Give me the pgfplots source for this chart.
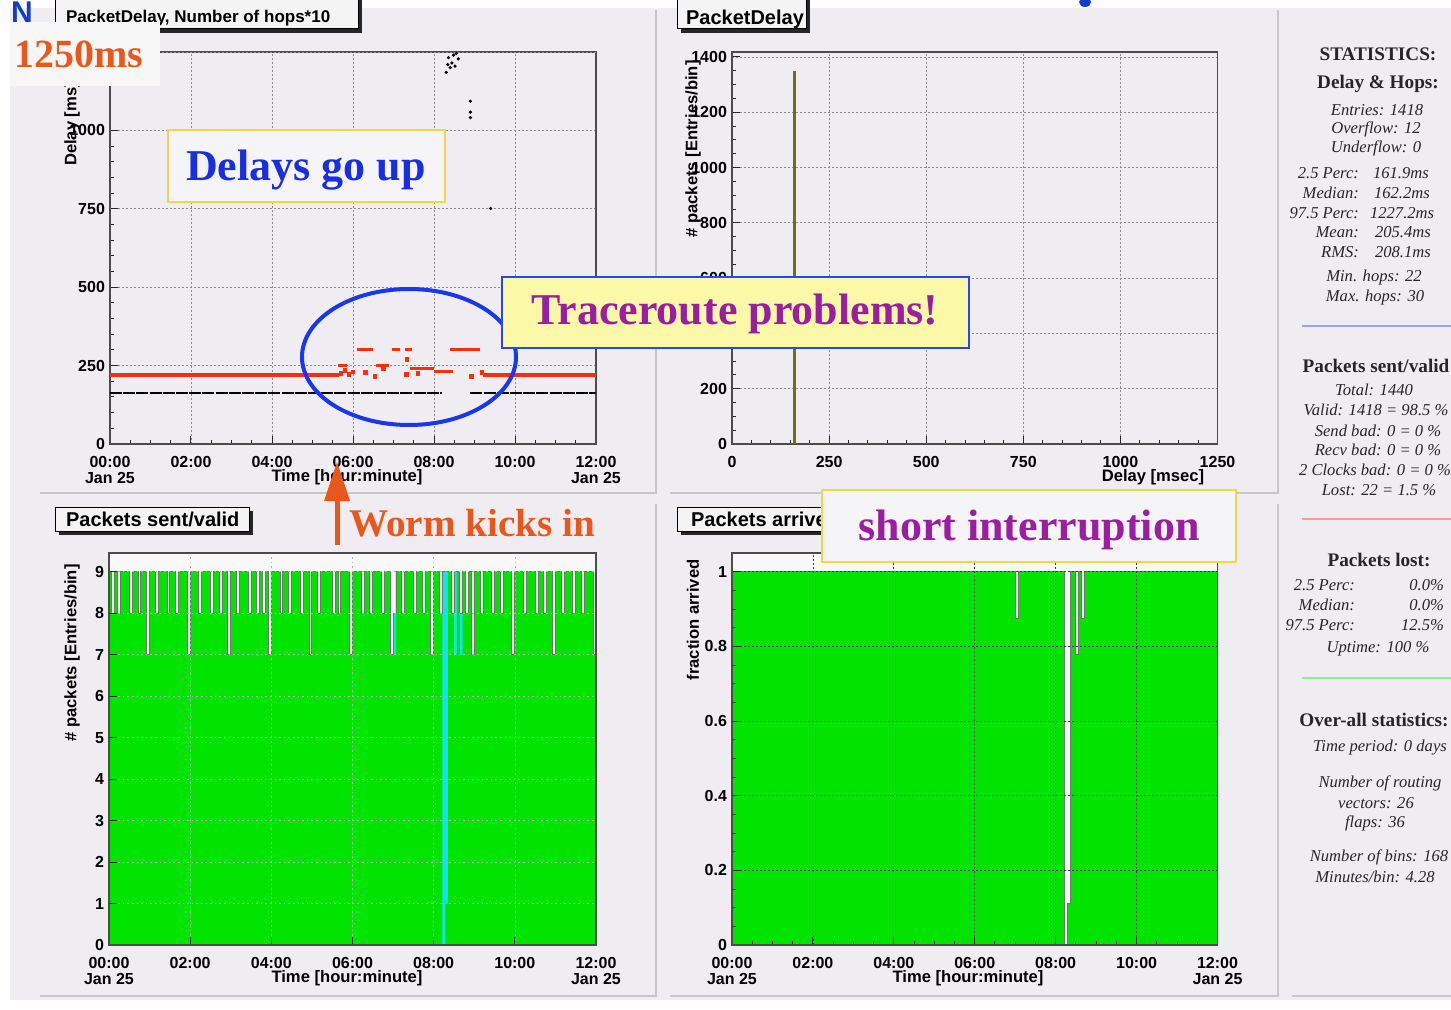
\documentclass[border=0pt]{standalone}
\usepackage{fontspec}
\setmainfont{Liberation Serif}
\setsansfont{Liberation Sans}
\usepackage{pgfplots}
\pgfplotsset{compat=1.18}
\usepackage{pgfplotstable}

\definecolor{panelbg}{RGB}{239,237,241}
\definecolor{plotw}{RGB}{248,248,248}
\definecolor{greenH}{RGB}{0,228,0}
\definecolor{cyanH}{RGB}{20,225,240}
\definecolor{redL}{RGB}{255,45,10}
\definecolor{oliveB}{RGB}{115,110,25}
\definecolor{blueE}{RGB}{25,55,235}
\definecolor{blueD}{RGB}{25,45,225}
\definecolor{purpleT}{RGB}{155,30,160}
\definecolor{orangeW}{RGB}{232,88,28}
\definecolor{yellowbg}{RGB}{251,249,168}
\definecolor{goldc}{RGB}{245,212,70}
\definecolor{blueB}{RGB}{40,70,245}
\definecolor{boxbg}{RGB}{245,244,247}
\definecolor{titlebg}{RGB}{244,244,244}
\definecolor{statblue}{RGB}{155,160,240}
\definecolor{statred}{RGB}{245,155,155}
\definecolor{statgreen}{RGB}{150,235,150}
\definecolor{blueN}{RGB}{20,60,200}

\newcommand\tickfont{\sffamily\bfseries\fontsize{8}{8}\selectfont}
\newcommand\labfont{\sffamily\bfseries\fontsize{8.3}{8.3}\selectfont}
\newcommand\annfont{\rmfamily\bfseries\fontsize{22}{22}\selectfont}
\newcommand\sth{\rmfamily\bfseries\fontsize{9.6}{10}\selectfont}
\newcommand\sti{\rmfamily\itshape\fontsize{8.3}{9}\selectfont}

% Packets sent / valid per bin (168 bins of 4.28 min over 12 h)
\pgfplotstableread[row sep=\\]{
bin sent valid\\
0 9 9\\ 1 8 8\\ 2 9 9\\ 3 8 8\\ 4 9 9\\ 5 9 9\\ 6 9 9\\ 7 8 8\\ 8 9 9\\ 9 9 9\\ 10 8 8\\ 11 9 9\\ 12 9 9\\ 13 7 7\\
14 9 9\\ 15 9 9\\ 16 8 8\\ 17 9 9\\ 18 9 9\\ 19 9 9\\ 20 8 8\\ 21 9 9\\ 22 9 9\\ 23 8 8\\ 24 9 9\\ 25 9 9\\ 26 9 9\\ 27 7 7\\
28 9 9\\ 29 9 9\\ 30 9 9\\ 31 8 8\\ 32 9 9\\ 33 9 9\\ 34 9 9\\ 35 8 8\\ 36 9 9\\ 37 9 9\\ 38 8 8\\ 39 9 9\\ 40 9 9\\ 41 7 7\\
42 9 9\\ 43 9 9\\ 44 8 8\\ 45 9 9\\ 46 9 9\\ 47 9 9\\ 48 8 8\\ 49 9 9\\ 50 9 9\\ 51 8 8\\ 52 9 9\\ 53 8 8\\ 54 9 9\\ 55 7 7\\
56 9 9\\ 57 9 9\\ 58 9 9\\ 59 8 8\\ 60 9 9\\ 61 9 9\\ 62 8 8\\ 63 9 9\\ 64 9 9\\ 65 9 9\\ 66 8 8\\ 67 9 9\\ 68 9 9\\ 69 7 7\\
70 9 9\\ 71 9 9\\ 72 8 8\\ 73 9 9\\ 74 9 9\\ 75 9 9\\ 76 9 9\\ 77 8 8\\ 78 9 9\\ 79 8 8\\ 80 9 9\\ 81 9 9\\ 82 9 9\\ 83 7 7\\
84 9 9\\ 85 9 9\\ 86 9 9\\ 87 8 8\\ 88 9 9\\ 89 9 9\\ 90 8 8\\ 91 9 9\\ 92 9 9\\ 93 9 9\\ 94 8 8\\ 95 9 9\\ 96 9 9\\ 97 7 7\\
98 8 7\\ 99 9 9\\ 100 9 9\\ 101 8 8\\ 102 9 9\\ 103 9 9\\ 104 9 9\\ 105 8 8\\ 106 9 9\\ 107 9 9\\ 108 8 8\\ 109 9 9\\ 110 9 9\\ 111 7 7\\
112 9 9\\ 113 9 9\\ 114 8 8\\ 115 9 0\\ 116 9 1\\ 117 9 9\\ 118 8 8\\ 119 9 7\\ 120 9 9\\ 121 8 7\\ 122 9 9\\ 123 8 8\\ 124 9 9\\ 125 7 7\\
126 9 9\\ 127 9 9\\ 128 8 8\\ 129 9 9\\ 130 9 9\\ 131 9 9\\ 132 8 8\\ 133 9 9\\ 134 9 9\\ 135 8 8\\ 136 9 9\\ 137 9 9\\ 138 9 9\\ 139 7 7\\
140 9 9\\ 141 9 9\\ 142 9 9\\ 143 8 8\\ 144 9 9\\ 145 9 9\\ 146 9 9\\ 147 8 8\\ 148 9 9\\ 149 9 9\\ 150 8 8\\ 151 9 9\\ 152 9 9\\ 153 7 7\\
154 9 9\\ 155 9 9\\ 156 8 8\\ 157 9 9\\ 158 9 9\\ 159 9 9\\ 160 8 8\\ 161 9 9\\ 162 9 9\\ 163 8 8\\ 164 9 9\\ 165 9 9\\ 166 9 9\\ 167 7 7\\
168 7 7\\
}\histo

\pgfplotsset{
  rootax/.style={
    scale only axis, anchor=south west,
    tick pos=left, tick align=inside,
    major tick length=4pt, minor tick length=2.2pt,
    grid=major,
    grid style={black!45, dash pattern=on 0.8pt off 1.2pt, line width=0.4pt},
    axis line style={black!70, line width=0.8pt},
    every tick/.style={black!85, line width=0.5pt},
    tick label style={font=\tickfont},
    xticklabel style={align=center, yshift=-2.6pt},
    yticklabel style={xshift=1pt},
    /pgf/number format/assume math mode=true,
    /pgf/number format/1000 sep={},
    scaled ticks=false,
  },
  timeax/.style={
    xtick={0,28,56,84,112,140,168},
    xticklabels={{00:00\\Jan 25},02:00,04:00,06:00,08:00,10:00,{12:00\\Jan 25}},
    xmin=0, xmax=168,
  }
}

\begin{document}
\begin{tikzpicture}
\useasboundingbox (0pt,0pt) rectangle (725.5pt,-505pt);
\clip (0pt,0pt) rectangle (725.5pt,-505pt);
\begin{scope}[x=0.5pt,y=-0.5pt]
  \fill[white] (0,0) rectangle (1451,1010);
  \fill[panelbg] (10,8) rectangle (1451,1000);
  \draw[black!22, line width=1pt] (40,493) -- (656,493) -- (656,10);
  \draw[black!22, line width=1pt] (670,493) -- (1278,493) -- (1278,10);
  \draw[black!22, line width=1pt] (40,996) -- (656,996) -- (656,504);
  \draw[black!22, line width=1pt] (670,996) -- (1278,996) -- (1278,504);
  \draw[black!22, line width=1pt] (1292,996) -- (1451,996);
\end{scope}

% ---------------- top left: delay and hops*10 vs time
\begin{axis}[rootax, at={(55pt,-222pt)}, width=243pt, height=196pt,
  xmin=0, xmax=12, ymin=0, ymax=1250,
  xtick={0,2,4,6,8,10,12},
  xticklabels={{00:00\\Jan 25},02:00,04:00,06:00,08:00,10:00,{12:00\\Jan 25}},
  minor x tick num=3,
  ytick={0,250,500,750,1000}, minor y tick num=4,
  extra y ticks={1250}, extra y tick labels={},
  axis background/.style={fill=panelbg}]
\addplot[black, line width=1pt, dash pattern=on 6pt off 0.6pt] coordinates {(0,163) (8.2,163)};
\addplot[black, line width=1pt, dash pattern=on 6pt off 0.6pt] coordinates {(8.9,163) (12,163)};
\addplot[redL, line width=2pt] coordinates {(0,220) (5.65,220)};
\addplot[redL, line width=2pt] coordinates {(9.2,220) (12,220)};
\addplot[redL, line width=1.5pt] coordinates {(5.62,250) (5.85,250)};
\addplot[redL, line width=1.5pt] coordinates {(6.1,300) (6.5,300)};
\addplot[redL, line width=1.5pt] coordinates {(6.58,250) (6.9,250)};
\addplot[redL, line width=1.5pt] coordinates {(6.97,300) (7.15,300)};
\addplot[redL, line width=1.5pt] coordinates {(7.28,300) (7.45,300)};
\addplot[redL, line width=1.5pt] coordinates {(7.4,240) (8.0,240)};
\addplot[redL, line width=1.5pt] coordinates {(8.0,230) (8.47,230)};
\addplot[redL, line width=1.5pt] coordinates {(8.4,300) (9.13,300)};
\addplot[only marks, mark=square*, mark size=0.9pt, redL] coordinates {
 (5.7,225) (5.8,235) (5.9,222) (6.0,230) (6.3,228) (6.54,215) (6.75,240)
 (7.32,222) (7.33,270) (7.6,225) (8.93,215) (9.18,228)};
\addplot[only marks, mark=*, mark size=0.6pt, black] coordinates {
 (8.3,1185) (8.36,1232) (8.4,1200) (8.44,1215) (8.48,1240) (8.52,1205)
 (8.55,1245) (8.6,1228) (8.34,1210) (8.9,1093) (8.9,1058) (8.9,1041) (9.4,751)};
\end{axis}

% ---------------- top right: delay histogram
\begin{axis}[rootax, at={(366pt,-222pt)}, width=242.75pt, height=196pt,
  xmin=0, xmax=1250, ymin=0, ymax=1418,
  xtick={0,250,500,750,1000,1250}, minor x tick num=4,
  ytick={0,200,400,600,800,1000,1200,1400},
  yticklabels={0,200,,600,800,1000,1200,1400}, minor y tick num=3,
  axis background/.style={fill=panelbg}]
\addplot[oliveB, line width=1.5pt] coordinates {(160,0) (160,1350)};
\end{axis}

% ---------------- bottom left: packets sent / valid
\begin{axis}[rootax, timeax, at={(54.5pt,-472.5pt)}, width=243.5pt, height=196pt,
  ymin=0, ymax=9.45, ytick={0,1,2,3,4,5,6,7,8,9},
  axis on top,
  grid style={black!30, dash pattern=on 0.8pt off 1.5pt, line width=0.3pt},
  axis background/.style={fill=plotw}]
\addplot[const plot, fill=cyanH, draw=none] table[x=bin,y=sent] {\histo} \closedcycle;
\addplot[const plot, fill=greenH, draw=none] table[x=bin,y=valid] {\histo} \closedcycle;
\addplot[const plot, draw=black!55, line width=0.45pt] table[x=bin,y=sent] {\histo};
\end{axis}

% ---------------- bottom right: fraction arrived
\begin{axis}[rootax, timeax, at={(366pt,-472.5pt)}, width=242.75pt, height=196pt,
  ymin=0, ymax=1.05, ytick={0,0.2,0.4,0.6,0.8,1}, minor y tick num=3,
  minor x tick num=3, axis on top,
  grid style={black!75, dash pattern=on 0.8pt off 1.2pt, line width=0.4pt},
  axis background/.style={fill=plotw}]
\addplot[const plot, fill=greenH, draw=black!55, line width=0.45pt] coordinates {
 (0,1) (98,0.875) (99,1) (115,0) (116,0.111) (117,1) (119,0.778) (120,1)
 (121,0.875) (122,1) (168,1)} \closedcycle;
\end{axis}

\begin{scope}[x=0.5pt,y=-0.5pt]
  % axis titles
  \node[font=\labfont] at (347,477) {Time [hour:minute]};
  \node[font=\labfont, rotate=90] at (72,124) {Delay [ms]};
  \node[font=\labfont] at (1153,477) {Delay [msec]};
  \node[font=\labfont, rotate=90] at (693,149) {\# packets [Entries/bin]};
  \node[font=\labfont] at (347,978) {Time [hour:minute]};
  \node[font=\labfont, rotate=90] at (72,653) {\# packets [Entries/bin]};
  \node[font=\labfont] at (968,978) {Time [hour:minute]};
  \node[font=\labfont, rotate=90] at (693,620) {fraction arrived};

  % pad titles
  \fill[black!85] (59,-6) rectangle (362,33);
  \filldraw[fill=titlebg, draw=black, line width=0.5pt] (55,-10) rectangle (358,29);
  \node[font=\sffamily\bfseries\fontsize{8.5}{8.5}\selectfont, anchor=west] at (59,18) {PacketDelay, Number of hops*10};
  \fill[black!85] (681,-6) rectangle (810,33);
  \filldraw[fill=titlebg, draw=black, line width=0.5pt] (677,-10) rectangle (806,29);
  \node[font=\sffamily\bfseries\fontsize{10}{10}\selectfont, anchor=west] at (679,19) {PacketDelay};
  \fill[black!85] (59,511) rectangle (253,535);
  \filldraw[fill=titlebg, draw=black, line width=0.5pt] (55,507) rectangle (249,531);
  \node[font=\sffamily\bfseries\fontsize{10}{10}\selectfont, anchor=west] at (59,519) {Packets sent/valid};
  \begin{scope}
    \clip (670,500) rectangle (821,545);
    \fill[black!85] (681,511) rectangle (880,535);
    \filldraw[fill=titlebg, draw=black, line width=0.5pt] (677,507) rectangle (876,531);
    \node[font=\sffamily\bfseries\fontsize{10}{10}\selectfont, anchor=west] at (684,519) {Packets arrive};
  \end{scope}

  % logo fragments
  \node[font=\sffamily\bfseries\fontsize{15}{15}\selectfont, text=blueN] at (22,12) {N};
  \fill[blueN] (1085,2) ellipse [x radius=3pt, y radius=2.5pt];

  % annotations
  \fill[white!97!black] (10,22) rectangle (160,86);
  \node[font=\rmfamily\bfseries\fontsize{20}{20}\selectfont, text=orangeW, anchor=base] at (79,68) {1250ms};
  \filldraw[fill=boxbg, draw=goldc, line width=1pt] (168,130) rectangle (445,202);
  \node[font=\annfont, text=blueD, anchor=base] at (306,181) {Delays go up};
  \draw[blueE, line width=2pt] (409,357) ellipse [x radius=53.5pt, y radius=34pt];
  \filldraw[fill=yellowbg, draw=blueB, line width=1pt] (502,277) rectangle (969,348);
  \node[font=\annfont, text=purpleT, anchor=base] at (735,325) {Traceroute problems!};
  \filldraw[fill=boxbg, draw=goldc, line width=1pt] (822,490) rectangle (1236,562);
  \node[font=\annfont, text=purpleT, anchor=base] at (1029,540) {short interruption};
  \fill[orangeW] (334.5,545) rectangle (339.5,498);
  \fill[orangeW] (324,501) -- (350,501) -- (337,462) -- cycle;
  \node[font=\rmfamily\bfseries\fontsize{19.6}{19.6}\selectfont, text=orangeW, anchor=base west] at (342,536) {Worm kicks in};

  % statistics panel
  \begin{scope}[every node/.style={text=black!85}]
  \node[font=\sth] at (1378,54) {STATISTICS:};
  \node[font=\sth] at (1378,84) {Delay \& Hops:};
  \node[font=\sti] at (1377,110) {Entries: 1418};
  \node[font=\sti] at (1376,129) {Overflow: 12};
  \node[font=\sti] at (1376,148) {Underflow: 0};
  \node[font=\sti, anchor=east] at (1366,173) {2.5 Perc:};
  \node[font=\sti, anchor=west] at (1366,173) {161.9ms};
  \node[font=\sti, anchor=east] at (1366,193) {Median:};
  \node[font=\sti, anchor=west] at (1367,193) {162.2ms};
  \node[font=\sti, anchor=east] at (1366,213) {97.5 Perc:};
  \node[font=\sti, anchor=west] at (1363,213) {1227.2ms};
  \node[font=\sti, anchor=east] at (1366,232) {Mean:};
  \node[font=\sti, anchor=west] at (1368,232) {205.4ms};
  \node[font=\sti, anchor=east] at (1366,252) {RMS:};
  \node[font=\sti, anchor=west] at (1368,252) {208.1ms};
  \node[font=\sti] at (1374,278) {Min. hops: 22};
  \node[font=\sti] at (1375,298) {Max. hops: 30};
  \draw[statblue, line width=1.2pt] (1302,326) -- (1451,326);
  \node[font=\sth] at (1376,366) {Packets sent/valid};
  \node[font=\sti] at (1374,390) {Total: 1440};
  \node[font=\sti] at (1376,410) {Valid: 1418 = 98.5 \%};
  \node[font=\sti] at (1378,431) {Send bad: 0 = 0 \%};
  \node[font=\sti] at (1378,450) {Recv bad: 0 = 0 \%};
  \node[font=\sti] at (1375,470) {2 Clocks bad: 0 = 0 \%};
  \node[font=\sti] at (1379,490) {Lost: 22 = 1.5 \%};
  \draw[statred, line width=1.2pt] (1302,519) -- (1451,519);
  \node[font=\sth] at (1379,560) {Packets lost:};
  \node[font=\sti, anchor=east] at (1362,585) {2.5 Perc:};
  \node[font=\sti, anchor=east] at (1451,585) {0.0\%};
  \node[font=\sti, anchor=east] at (1362,605) {Median:};
  \node[font=\sti, anchor=east] at (1451,605) {0.0\%};
  \node[font=\sti, anchor=east] at (1362,625) {97.5 Perc:};
  \node[font=\sti, anchor=east] at (1451,625) {12.5\%};
  \node[font=\sti] at (1378,649) {Uptime: 100 \%};
  \draw[statgreen, line width=1.2pt] (1302,678) -- (1451,678);
  \node[font=\sth] at (1374,720) {Over-all statistics:};
  \node[font=\sti] at (1380,748) {Time period: 0 days};
  \node[font=\sti] at (1380,783) {Number of routing};
  \node[font=\sti] at (1376,803) {vectors: 26};
  \node[font=\sti] at (1375,823) {flaps: 36};
  \node[font=\sti] at (1379,857) {Number of bins: 168};
  \node[font=\sti] at (1375,877) {Minutes/bin: 4.28};
  \end{scope}
\end{scope}
\end{tikzpicture}
\end{document}
